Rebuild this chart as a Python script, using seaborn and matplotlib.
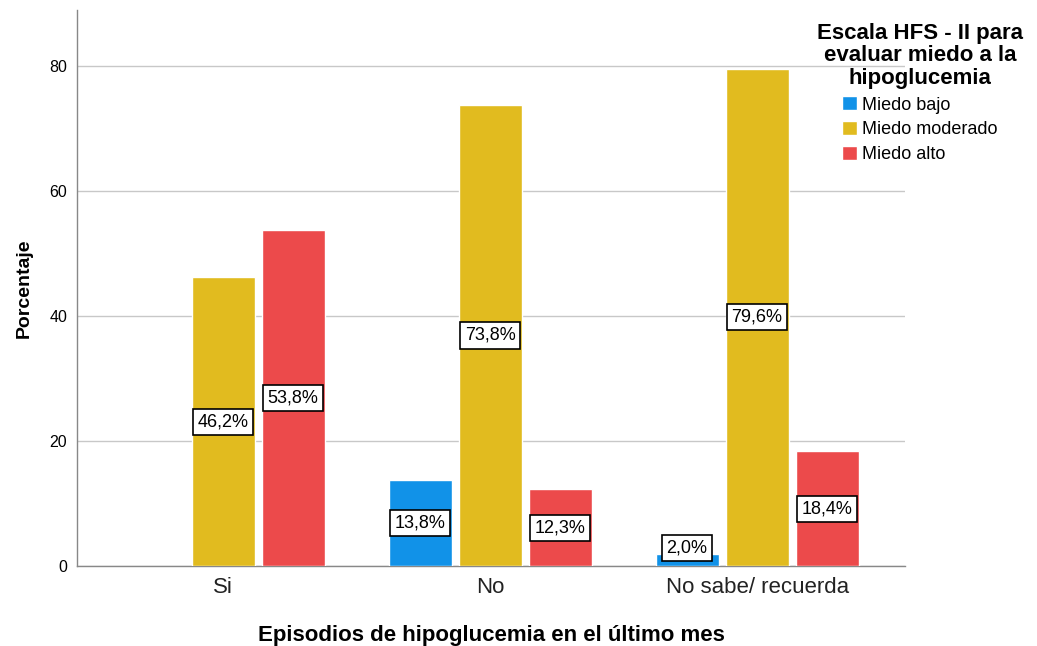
import seaborn as sns
import pandas as pd
import matplotlib.pyplot as plt

# Datos
episodios = ["Si", "No", "No sabe/ recuerda"]
niveles = ["Miedo bajo", "Miedo moderado", "Miedo alto"]
miedo_bajo = [None, 13.8, 2.0]
miedo_moderado = [46.2, 73.8, 79.6]
miedo_alto = [53.8, 12.3, 18.4]
colores = ["#1192E8", "#E1BB1F", "#EC4A4B"]

filas = []
for i, ep in enumerate(episodios):
    for nivel, serie in zip(niveles, [miedo_bajo, miedo_moderado, miedo_alto]):
        if serie[i] is not None:
            filas.append({"episodio": ep, "nivel": nivel, "porcentaje": serie[i]})
df = pd.DataFrame(filas)

sns.set_style("white")
plt.rcParams["font.family"] = ["Liberation Sans", "DejaVu Sans"]
plt.rcParams["text.color"] = "black"
plt.rcParams["axes.labelcolor"] = "black"

fig = plt.figure(figsize=(10.37, 6.46), dpi=100)
ax = fig.add_axes([0.0743, 0.1238, 0.7984, 0.8607])

sns.barplot(data=df, x="episodio", y="porcentaje", hue="nivel",
            order=episodios, hue_order=niveles, palette=colores,
            width=0.787, gap=0.1, saturation=1, ax=ax, zorder=3)

ax.set_ylim(0, 89)
ax.set_xlim(-0.547, 2.554)
ax.set_yticks([0, 20, 40, 60, 80])
ax.yaxis.grid(True, color="#c8c8c8", linewidth=1, zorder=0)
ax.set_axisbelow(True)
for s in ["top", "right"]:
    ax.spines[s].set_visible(False)
for s in ["left", "bottom"]:
    ax.spines[s].set_color("#888888")
    ax.spines[s].set_linewidth(1)
ax.tick_params(axis="both", length=0)
ax.tick_params(axis="y", labelsize=11.5, colors="black", pad=7)
ax.tick_params(axis="x", labelsize=16, colors="#222222", pad=8)

ax.set_xlabel("Episodios de hipoglucemia en el último mes",
              fontsize=16, fontweight="bold", labelpad=19)
ax.set_ylabel("Porcentaje", fontsize=14, fontweight="bold", labelpad=12)

# etiquetas de porcentaje en el centro de cada barra
for cont in ax.containers:
    for barra in cont:
        h = barra.get_height()
        if h != h or h == 0:
            continue
        y = max(h / 2, 2.9)
        ax.text(barra.get_x() + barra.get_width() / 2, y,
                f"{h:.1f}%".replace(".", ","),
                ha="center", va="center", fontsize=13, zorder=5,
                bbox=dict(boxstyle="square,pad=0.25", fc="white",
                          ec="black", lw=1.2))

leg = ax.legend(title="Escala HFS - II para\nevaluar miedo a la\nhipoglucemia",
                loc="upper center", bbox_to_anchor=(0.887, 0.99),
                bbox_transform=fig.transFigure, frameon=False,
                fontsize=13, title_fontproperties={"weight": "bold", "size": 16},
                handlelength=0.8, handleheight=0.8, handletextpad=0.3,
                labelspacing=0.42, alignment="center")
leg.get_title().set_multialignment("center")
leg.get_title().set_linespacing(1.1)

fig.savefig("out.png", dpi=100)
